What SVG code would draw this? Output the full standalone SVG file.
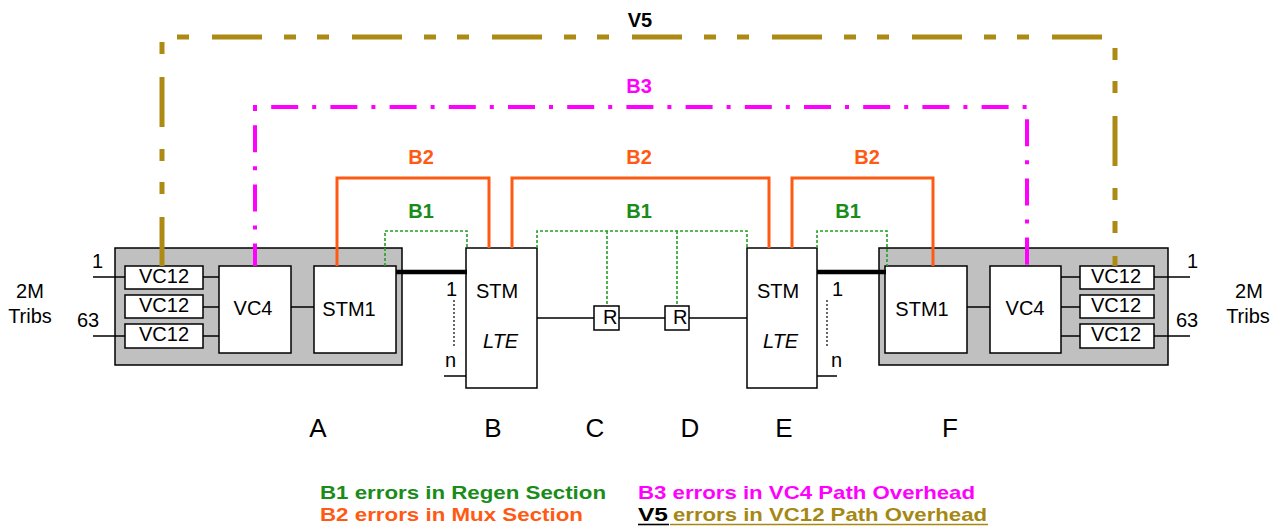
<svg xmlns="http://www.w3.org/2000/svg" width="1282" height="530" viewBox="0 0 1282 530">
<style>
.gray{fill:#c0c0c0;stroke:#000;stroke-width:1.5}
.box{fill:#fff;stroke:#000;stroke-width:1.5}
.t{font-family:"Liberation Sans",Arial,sans-serif;font-size:20px;fill:#000}
.c{text-anchor:middle}
.ln{stroke:#000;stroke-width:1.5;fill:none}
.dot{stroke:#000;stroke-width:1.2;fill:none;stroke-dasharray:2 2}
.thick{stroke:#000;stroke-width:4.5;fill:none}
.v5{stroke:#ad8a14;stroke-width:5;fill:none;stroke-dasharray:12 23 50 22 12 21}
.b3{stroke:#ff00ff;stroke-width:4;fill:none;stroke-dasharray:27 14 4 14.2}
.b2{stroke:#ff5a14;stroke-width:3;fill:none}
.b1{stroke:#22a022;stroke-width:1.6;fill:none;stroke-dasharray:3 2}
.lbl{font-family:"Liberation Sans",Arial,sans-serif;font-weight:bold;font-size:20px;text-anchor:middle}
.leg{font-family:"Liberation Sans",Arial,sans-serif;font-weight:bold;font-size:19px}
.big{font-family:"Liberation Sans",Arial,sans-serif;font-size:26px;text-anchor:middle;fill:#000}
</style>

<g id="node-A">
<rect class="gray" x="115" y="248" width="287" height="117"/>
<g id="A-vc12-1"><rect class="box" x="125" y="266" width="78" height="23"/><text class="t c" x="164" y="283" font-size="21">VC12</text></g>
<g id="A-vc12-2"><rect class="box" x="125" y="295" width="78" height="23"/><text class="t c" x="164" y="312" font-size="21">VC12</text></g>
<g id="A-vc12-3"><rect class="box" x="125" y="324" width="78" height="24"/><text class="t c" x="164" y="341" font-size="21">VC12</text></g>
<g id="A-vc4"><rect class="box" x="219" y="266" width="72" height="87"/><text class="t c" x="253" y="315">VC4</text></g>
<g id="A-stm1"><rect class="box" x="314" y="266" width="82" height="87"/><text class="t c" x="349" y="316">STM1</text></g>
</g>

<g id="node-F">
<rect class="gray" x="879" y="248" width="289" height="117"/>
<g id="F-stm1"><rect class="box" x="885" y="266" width="82" height="87"/><text class="t c" x="922" y="316">STM1</text></g>
<g id="F-vc4"><rect class="box" x="990" y="266" width="71" height="87"/><text class="t c" x="1025" y="315">VC4</text></g>
<g id="F-vc12-1"><rect class="box" x="1080" y="266" width="74" height="23"/><text class="t c" x="1116" y="283" font-size="21">VC12</text></g>
<g id="F-vc12-2"><rect class="box" x="1080" y="295" width="74" height="23"/><text class="t c" x="1116" y="312" font-size="21">VC12</text></g>
<g id="F-vc12-3"><rect class="box" x="1080" y="324" width="74" height="24"/><text class="t c" x="1116" y="341" font-size="21">VC12</text></g>
</g>

<g id="node-B">
<rect class="box" x="466" y="248" width="71" height="140"/>
<text class="t" x="476" y="298">STM</text>
<text class="t" x="483" y="348" font-style="italic" font-size="21">LTE</text>
</g>

<g id="node-E">
<rect class="box" x="747" y="248" width="70" height="140"/>
<text class="t" x="757" y="298">STM</text>
<text class="t" x="763" y="348" font-style="italic" font-size="21">LTE</text>
</g>

<g id="node-C"><rect class="box" x="594" y="306" width="25" height="24"/><text class="t" x="603" y="324">R</text></g>
<g id="node-D"><rect class="box" x="665" y="306" width="24" height="24"/><text class="t" x="673" y="324">R</text></g>

<g id="side-labels">
<text class="t" x="92" y="268">1</text>
<text class="t" x="77" y="327">63</text>
<text class="t c" x="30" y="298">2M</text>
<text class="t c" x="30" y="323">Tribs</text>
<text class="t" x="1187" y="268">1</text>
<text class="t" x="1176" y="327">63</text>
<text class="t c" x="1249" y="298">2M</text>
<text class="t c" x="1248" y="323">Tribs</text>
<text class="t" x="446" y="296">1</text>
<text class="t" x="445" y="367">n</text>
<text class="t" x="832" y="296">1</text>
<text class="t" x="831" y="367">n</text>
</g>

<g id="connectors">
<path class="ln" d="M93 277H125M93 336H125M203 277H219M203 307H219M203 336H219M291 307H314"/>
<path class="ln" d="M444 376H466M537 318H594M619 318H665M689 318H747M817 376H837"/>
<path class="ln" d="M967 307H990M1061 277H1080M1061 307H1080M1061 336H1080M1154 277H1190M1154 336H1190"/>
<path class="dot" d="M454 300V347M827 300V347"/>
<path class="thick" d="M396 272H467M817 272H886"/>
<path class="b2" d="M337 266V178H489V248M512 248V178H769V248M792 248V178H933V266"/>
<path class="b1" d="M385 266V231H467V248M537 248V231H747V248M607 231V306M677 231V306M817 248V231H887V266"/>
<line class="b3" x1="255" y1="107" x2="255" y2="266" stroke-dashoffset="41"/>
<line class="b3" x1="253" y1="107" x2="1029" y2="107" stroke-dashoffset="41"/>
<line class="b3" x1="1027" y1="107" x2="1027" y2="266" stroke-dashoffset="47"/>
<line class="v5" x1="162" y1="37" x2="162" y2="266" stroke-dashoffset="135"/>
<line class="v5" x1="162" y1="37" x2="1117" y2="37" stroke-dashoffset="125"/>
<line class="v5" x1="1115" y1="37" x2="1115" y2="266" stroke-dashoffset="96"/>
</g>

<g id="path-labels">
<text class="lbl" x="640" y="27" fill="#000">V5</text>
<text class="lbl" x="639" y="93" fill="#ff00ff">B3</text>
<text class="lbl" x="421" y="164" fill="#ff5a14">B2</text>
<text class="lbl" x="639" y="164" fill="#ff5a14">B2</text>
<text class="lbl" x="867" y="164" fill="#ff5a14">B2</text>
<text class="lbl" x="421" y="218" fill="#1a8c1a">B1</text>
<text class="lbl" x="639" y="218" fill="#1a8c1a">B1</text>
<text class="lbl" x="848" y="218" fill="#1a8c1a">B1</text>
</g>

<g id="station-labels">
<text class="big" x="318" y="437">A</text>
<text class="big" x="493" y="437">B</text>
<text class="big" x="595" y="437">C</text>
<text class="big" x="690" y="437">D</text>
<text class="big" x="784" y="437">E</text>
<text class="big" x="950" y="437">F</text>
</g>

<g id="legend">
<text class="leg" x="320" y="499" fill="#1a8c1a" textLength="286" lengthAdjust="spacingAndGlyphs">B1 errors in Regen Section</text>
<text class="leg" x="320" y="521" fill="#ff5a14" textLength="263" lengthAdjust="spacingAndGlyphs">B2 errors in Mux Section</text>
<text class="leg" x="638" y="499" fill="#ff00ff" textLength="337" lengthAdjust="spacingAndGlyphs">B3 errors in VC4 Path Overhead</text>
<text class="leg" x="638" y="521" fill="#000" textLength="30" lengthAdjust="spacingAndGlyphs">V5</text>
<text class="leg" x="673" y="521" fill="#a58814" textLength="314" lengthAdjust="spacingAndGlyphs">errors in VC12 Path Overhead</text>
<line x1="638" y1="524.5" x2="669" y2="524.5" stroke="#000" stroke-width="1.6"/>
<line x1="670" y1="524.5" x2="988" y2="524.5" stroke="#a58814" stroke-width="1.6"/>
</g>
</svg>
